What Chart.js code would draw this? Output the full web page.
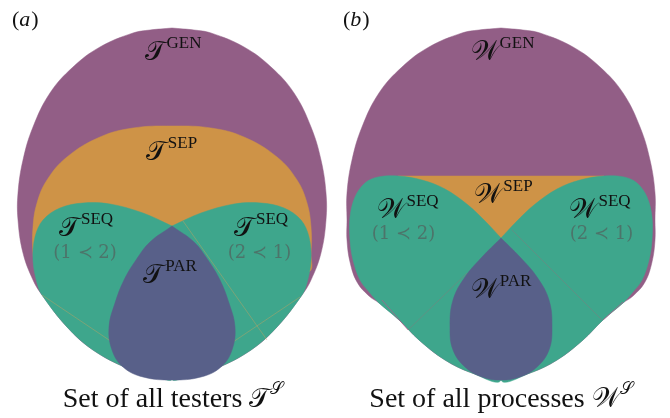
<!DOCTYPE html>
<html><head><meta charset="utf-8">
<script src="https://cdn.jsdelivr.net/npm/chart.js@4.4.0/dist/chart.umd.min.js"></script>
<style>html,body{margin:0;padding:0;background:#fff;}canvas{display:block;}</style>
</head><body>
<canvas id="c" width="670" height="418"></canvas>
<script>
// ---- outlines (x, y in picture units) ----
const setNames = ['GEN', 'SEP', 'SEQ', 'SEQ', 'PAR'];
const orderLabels = ['(1 \u227A 2)', '(2 \u227A 1)'];
const captions = ['Set of all testers', 'Set of all processes'];
const letters = ['\u{1D4AF}', '\u{1D4B2}'];   // script T, script W
const supS = '\u{1D4AE}';                       // script S

const genA = [[172,28],[194,30],[211,33],[244,47],[271,67],[294,93],[311,127],[321,160],[326,193],[326,220],[321,253],[311,280],[302,295],[277,327],[251,350],[217,368],[184,378],[172,379],[160,378],[127,368],[93,350],[67,327],[42,295],[33,280],[23,253],[18,220],[18,193],[23,160],[33,127],[50,93],[73,67],[100,47],[133,33],[150,30],[172,28]];
const sepA = [[36,272],[33,253],[33,227],[37,203],[47,180],[67,157],[100,137],[133,128],[172,126],[211,128],[244,137],[277,157],[297,180],[307,203],[311,227],[311,253],[308,272],[172,278]];
const seqA1 = [[172,226],[143,213],[110,204],[83,203],[60,208],[43,220],[35,237],[33,260],[37,283],[42,295],[67,327],[93,350],[127,368],[160,378],[172,379],[172,300]];
const seqA2 = [[172,226],[201,213],[234,204],[261,203],[284,208],[301,220],[309,237],[311,260],[307,283],[302,295],[277,327],[251,350],[217,368],[184,378],[172,379],[172,300]];
const parA = [[172,226],[150,242],[136,260],[124,280],[115,303],[109,327],[112,350],[123,367],[143,377],[172,380],[201,377],[221,367],[232,350],[235,327],[229,303],[220,280],[208,260],[194,242],[172,226]];

const genB = [[501,28],[523,30],[540,33],[573,47],[600,67],[623,93],[640,127],[650,160],[655,193],[655,220],[655,240],[652,262],[645,282],[633,296],[623,303],[603,320],[583,340],[557,360],[530,373],[501,380],[472,373],[445,360],[419,340],[399,320],[379,303],[369,296],[357,282],[350,262],[347,240],[347,220],[347,193],[352,160],[362,127],[379,93],[402,67],[429,47],[462,33],[479,30],[501,28]];
const sepB = [[398,176],[604,176],[501,262]];
const seqB1 = [[501,238],[486,222],[468,205],[445,189],[422,180],[398,176],[378,177],[365,183],[355,197],[350,217],[350,240],[353,260],[360,280],[370,293],[379,303],[399,320],[419,340],[445,360],[472,373],[501,380],[501,300]];
const seqB2 = [[501,238],[516,222],[534,205],[557,189],[580,180],[604,176],[624,177],[637,183],[647,197],[652,217],[652,240],[649,260],[642,280],[632,293],[623,303],[603,320],[583,340],[557,360],[530,373],[501,380],[501,300]];
const parB = [[501,238],[482,257],[465,277],[453,300],[450,327],[453,350],[465,367],[482,377],[501,380],[520,377],[537,367],[549,350],[552,327],[549,300],[537,277],[520,257],[501,238]];

// faint seam lines visible in the picture
const seamA = [[[42,295],[112,342]],[[183,221],[267,340]],[[233,342],[300,297]]];
const seamB = [[[512,230],[602,320]],[[408,330],[467,273]]];
const seamBpink = [[[382,300],[408,330]],[[603,320],[623,302]]];

const COL = {gen:'#925e86', sep:'#ce9347', seq:'#3ea68c', par:'#586089'};

const pts = a => a.map(([x, y]) => ({x, y}));
function shape(arr, color, order, tension) {
  return {data: pts(arr), showLine: true, fill: false, areaColor: color, backgroundColor: color,
          borderColor: color, borderWidth: 0.5, pointRadius: 0, tension: tension, order: order};
}
function seam(arr, color) {
  return {data: pts(arr), showLine: true, fill: false, borderColor: color,
          borderWidth: 0.8, pointRadius: 0, tension: 0, order: 3};
}

const datasets = [
  shape(genA, COL.gen, 6, 0.4), shape(sepA, COL.sep, 5, 0.4),
  shape(seqA1, COL.seq, 4, 0.35), shape(seqA2, COL.seq, 4, 0.35),
  shape(parA, COL.par, 2, 0.4),
  shape(genB, COL.gen, 6, 0.4), shape(sepB, COL.sep, 5, 0),
  shape(seqB1, COL.seq, 4, 0.35), shape(seqB2, COL.seq, 4, 0.35),
  shape(parB, COL.par, 2, 0.4)
];
seamA.forEach(s => datasets.push(seam(s, 'rgba(200,160,95,0.55)')));
seamB.forEach(s => datasets.push(seam(s, 'rgba(120,130,125,0.7)')));
seamBpink.forEach(s => datasets.push(seam(s, 'rgba(190,80,140,0.8)')));

// fills each closed outline using the line element's own (spline) path
const areaPlugin = {
  id: 'areaFill',
  beforeDatasetDraw(chart, args) {
    const meta = args.meta, ds = chart.data.datasets[args.index];
    if (!ds.areaColor || !meta.dataset) return;
    const ctx = chart.ctx;
    ctx.save();
    ctx.beginPath();
    meta.dataset.path(ctx);
    ctx.closePath();
    ctx.fillStyle = ds.areaColor;
    ctx.fill();
    ctx.restore();
  }
};

const MAINF = "27px 'DejaVu Serif', 'DejaVu Sans', serif";
const SUPF = "17px 'Liberation Serif', serif";
const CAPF = "28px 'Liberation Serif', serif";
const textPlugin = {
  id: 'texts',
  afterDatasetsDraw(chart, args, opts) {
    const ctx = chart.ctx, sx = chart.scales.x, sy = chart.scales.y;
    ctx.save();
    ctx.textBaseline = 'alphabetic';
    ctx.textAlign = 'left';
    for (const t of opts.items) {
      const cx = sx.getPixelForValue(t.cx), by = sy.getPixelForValue(t.y);
      if (t.kind === 'sym') {
        ctx.font = MAINF;
        const w1 = ctx.measureText(t.main).width;
        ctx.font = SUPF;
        const w2 = ctx.measureText(t.sup).width;
        const x0 = cx - (w1 + w2 + 1) / 2;
        ctx.fillStyle = '#111';
        ctx.font = MAINF;
        ctx.fillText(t.main, x0, by);
        ctx.font = SUPF;
        ctx.fillText(t.sup, x0 + w1 + 1, by - 12);
      } else if (t.kind === 'caption') {
        ctx.font = CAPF;
        const w0 = ctx.measureText(t.text + ' ').width;
        ctx.font = MAINF;
        const w1 = ctx.measureText(t.main).width;
        ctx.font = "17px 'DejaVu Serif', serif";
        const w2 = ctx.measureText(t.sup).width;
        const x0 = cx - (w0 + w1 + w2) / 2;
        ctx.fillStyle = '#111';
        ctx.font = CAPF;
        ctx.fillText(t.text + ' ', x0, by);
        ctx.font = MAINF;
        ctx.fillText(t.main, x0 + w0, by);
        ctx.font = "17px 'DejaVu Serif', serif";
        ctx.fillText(t.sup, x0 + w0 + w1, by - 13);
      } else if (t.kind === 'grey') {
        ctx.font = "18px 'DejaVu Serif', serif";
        ctx.fillStyle = 'rgba(85,85,85,0.62)';
        ctx.textAlign = 'center';
        ctx.fillText(t.text, cx, by);
        ctx.textAlign = 'left';
      } else if (t.kind === 'panel') {
        ctx.fillStyle = '#111';
        ctx.font = "22px 'Liberation Serif', serif";
        let x = cx;
        ctx.fillText('(', x, by); x += ctx.measureText('(').width;
        ctx.font = "italic 22px 'Liberation Serif', serif";
        ctx.fillText(t.text, x, by); x += ctx.measureText(t.text).width + 1;
        ctx.font = "22px 'Liberation Serif', serif";
        ctx.fillText(')', x, by);
      }
    }
    ctx.restore();
  }
};

const items = [
  {kind:'panel', text:'a', cx:12, y:26},
  {kind:'panel', text:'b', cx:343, y:26},
  {kind:'sym', main:letters[0], sup:setNames[0], cx:173, y:60},
  {kind:'sym', main:letters[0], sup:setNames[1], cx:171.5, y:160},
  {kind:'sym', main:letters[0], sup:setNames[2], cx:86, y:236},
  {kind:'sym', main:letters[0], sup:setNames[3], cx:261, y:236},
  {kind:'sym', main:letters[0], sup:setNames[4], cx:170, y:283},
  {kind:'grey', text:orderLabels[0], cx:85, y:258},
  {kind:'grey', text:orderLabels[1], cx:259.5, y:258},
  {kind:'sym', main:letters[1], sup:setNames[0], cx:502.5, y:60},
  {kind:'sym', main:letters[1], sup:setNames[1], cx:503.5, y:203},
  {kind:'sym', main:letters[1], sup:setNames[2], cx:408, y:218},
  {kind:'sym', main:letters[1], sup:setNames[3], cx:600, y:218},
  {kind:'sym', main:letters[1], sup:setNames[4], cx:501, y:298},
  {kind:'grey', text:orderLabels[0], cx:403.5, y:239},
  {kind:'grey', text:orderLabels[1], cx:601.5, y:239},
  {kind:'caption', text:captions[0], main:letters[0], sup:supS, cx:173, y:407},
  {kind:'caption', text:captions[1], main:letters[1], sup:supS, cx:501, y:407}
];

new Chart(document.getElementById('c'), {
  type: 'scatter',
  data: {datasets},
  options: {
    responsive: false, devicePixelRatio: 1, animation: false,
    layout: {padding: 0},
    scales: {
      x: {type: 'linear', min: 0, max: 670, display: false},
      y: {type: 'linear', min: 0, max: 418, reverse: true, display: false}
    },
    plugins: {legend: {display: false}, tooltip: {enabled: false}, texts: {items}},
    elements: {line: {capBezierPoints: false}}
  },
  plugins: [areaPlugin, textPlugin]
});
</script>
</body></html>
